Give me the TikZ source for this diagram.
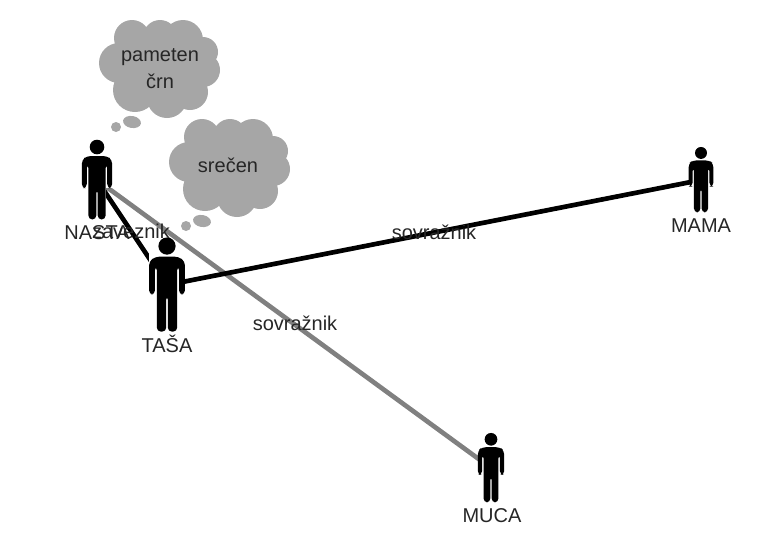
\documentclass[tikz,border=0pt]{standalone}
\usepackage{fontspec}
\setmainfont{Liberation Sans}
\tikzset{
  x=0.75pt,y=-0.75pt,
  lbl/.style={inner sep=0pt,font=\fontsize{15}{17}\selectfont,text=black!85},
  anchorbox/.style={inner sep=0pt,minimum size=0pt},
  blackline/.style={line width=3.5pt,draw=black},
  grayline/.style={line width=3.5pt,draw=black!50},
  persona/.pic={
    \fill[white] (-15,-30) rectangle (15,8);
    \fill[white] (-9,8) rectangle (9,39);
    \fill[black] (0,-33) circle (7.3);
    \fill[black,rounded corners=3pt] (-15.2,8) -- (-15.2,-20) -- (-10,-24) -- (10,-24) -- (15.2,-20) -- (15.2,8) -- (10.2,8) -- (10.2,-16) -- (8.6,-16) -- (8.6,39.5) -- (0.7,39.5) -- (0.7,9) -- (-0.7,9) -- (-0.7,39.5) -- (-8.6,39.5) -- (-8.6,-16) -- (-10.2,-16) -- (-10.2,8) -- cycle;
  },
  thought/.pic={
    \fill[cloudgray] (32,-40) circle (18) (60,-41) circle (17) (83,-38) circle (20)
      (103,-26) circle (15) (103,-8) circle (17) (90,14) circle (18)
      (67,20) circle (20) (35,12) circle (22) (19,-15) circle (20) (60,-10) ellipse (42 and 30);
    \fill[cloudgray,rotate around={-10:(32,44)}] (32,44) ellipse (9 and 6);
    \fill[cloudgray] (16,49) circle (5);
  },
}
\definecolor{cloudgray}{HTML}{A6A6A6}
\begin{document}
\begin{tikzpicture}
\useasboundingbox (0,0) rectangle (760,558);
\node[anchorbox] (nasa) at (97,180) {};
\node[anchorbox] (tasa) at (167,285) {};
\node[anchorbox] (mama) at (701,180) {};
\node[anchorbox] (muca) at (491,468) {};
\draw[grayline] (nasa) -- (muca);
\draw[blackline] (nasa) -- (tasa);
\draw[blackline] (tasa) -- (mama);
\pic at (nasa) {persona};
\pic[scale=1.18] at (tasa) {persona};
\pic[scale=0.82] at (mama) {persona};
\pic[scale=0.87] at (muca) {persona};
\pic at (100,78) {thought};
\pic at (170,177) {thought};
\node[lbl] (lnasa) at (97,233) {NASTA};
\node[lbl] (ltasa) at (167,344) {TAŠA};
\node[lbl] (lmama) at (701,226) {MAMA};
\node[lbl] (lmuca) at (492,516) {MUCA};
\node[lbl] (e1) at (131,231) {zaveznik};
\node[lbl] (e2) at (434,232) {sovražnik};
\node[lbl] (e3) at (295,323) {sovražnik};
\node[lbl] (t1) at (160,57) {pameten};
\node[lbl] (t2) at (160,81) {črn};
\node[lbl] (t3) at (228,165) {srečen};
\end{tikzpicture}
\end{document}
